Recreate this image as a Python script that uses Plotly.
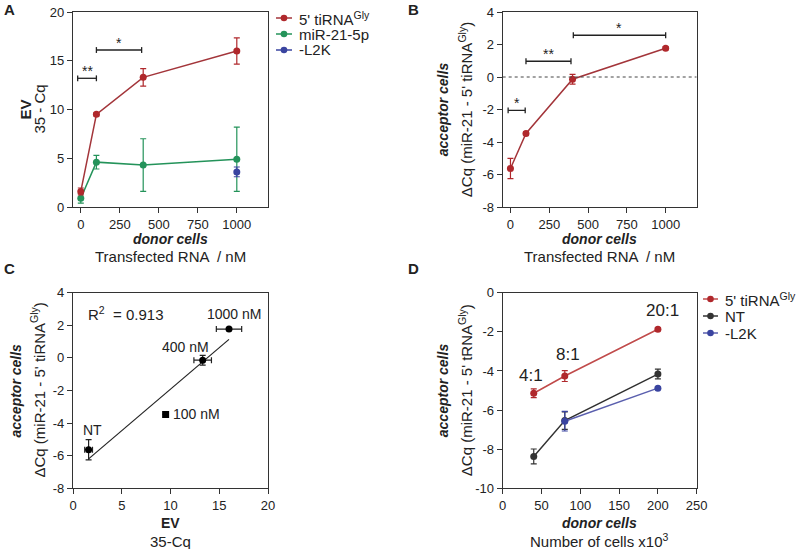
import numpy as np
import plotly.graph_objects as go

# ---------------- data ----------------
# Panel A : EV levels vs transfected RNA
rna_nM = [0, 100, 400, 1000]
ev_tirna = [1.6, 9.5, 13.3, 16.0]
ev_tirna_err = [0.35, 0.15, 0.9, 1.35]
ev_mir21 = [0.9, 4.6, 4.3, 4.9]
ev_mir21_err = [0.5, 0.7, 2.7, 3.3]
l2k_nM = [1000]
ev_l2k = [3.6]
ev_l2k_err = [0.5]
sigA_x0 = [-20, 100]
sigA_x1 = [100, 390]
sigA_y = [13.2, 16.1]
sigA_txt = ["**", "*"]

# Panel B : acceptor cells dCq vs transfected RNA
dcq_tirna = [-5.63, -3.47, -0.14, 1.77]
dcq_tirna_err = [0.62, 0.1, 0.3, 0.08]
sigB_x0 = [-15, 100, 405]
sigB_x1 = [95, 390, 1000]
sigB_y = [-2.05, 0.97, 2.57]
sigB_txt = ["*", "**", "*"]

# Panel C : correlation
c_labels = ["NT", "100 nM", "400 nM", "1000 nM"]
c_ev = [1.6, 9.5, 13.3, 16.0]
c_ev_err = [0.4, 0.0, 0.9, 1.3]
c_dcq = [-5.63, -3.47, -0.14, 1.77]
c_dcq_err = [0.62, 0.0, 0.3, 0.08]
c_symbols = ["circle", "square", "circle", "circle"]
r2_text = "R<sup>2</sup>  = 0.913"

# Panel D : cell number
cells_k = [40, 80, 200]
d_tirna = [-5.14, -4.26, -1.87]
d_tirna_err = [0.22, 0.28, 0.07]
d_nt = [-8.37, -6.54, -4.16]
d_nt_err = [0.38, 0.45, 0.25]
l2k_cells = [80, 200]
d_l2k = [-6.57, -4.88]
d_l2k_err = [0.5, 0.06]
ratio_labels = ["4:1", "8:1", "20:1"]

# tick values
ticksA_x = [0, 250, 500, 750, 1000]
ticksA_y = [0, 5, 10, 15, 20]
ticksB_y = [-8, -6, -4, -2, 0, 2, 4]
ticksC_x = [0, 5, 10, 15, 20]
ticksD_x = [0, 50, 100, 150, 200, 250]
ticksD_y = [-10, -8, -6, -4, -2, 0]

# ---------------- style ----------------
RED = "#b0282c"
RED_LINE = "#a3353a"
GREEN = "#24935a"
BLUE = "#3a44a0"
BLACK = "#222222"
FONT = "Liberation Sans, Arial, sans-serif"
W, H = 800, 549


def px(x):
    return x / W


def py(y):
    return 1 - y / H


fig = go.Figure()


def series(x, y, err, color, name, xa, ya, line=True, line_color=None, symbol="circle"):
    fig.add_trace(go.Scatter(
        x=x, y=y, name=name, xaxis=xa, yaxis=ya, showlegend=False,
        mode="lines+markers" if line else "markers",
        line=dict(color=line_color or color, width=1.5),
        marker=dict(color=color, size=7, symbol=symbol),
        error_y=dict(type="data", array=err, color=color, thickness=1.2, width=3),
    ))


# Panel A
series(rna_nM, ev_mir21, ev_mir21_err, GREEN, "miR-21-5p", "x", "y")
series(rna_nM, ev_tirna, ev_tirna_err, RED, "5' tiRNA", "x", "y", line_color=RED_LINE)
series(l2k_nM, ev_l2k, ev_l2k_err, BLUE, "-L2K", "x", "y", line=False)

# Panel B
series(rna_nM, dcq_tirna, dcq_tirna_err, RED, "5' tiRNA", "x2", "y2", line_color=RED_LINE)

# Panel C
coef = np.polyfit(c_ev, c_dcq, 1)
fit_x = np.array([min(c_ev), max(c_ev)])
fig.add_trace(go.Scatter(x=fit_x, y=np.polyval(coef, fit_x), mode="lines", xaxis="x3", yaxis="y3",
                         line=dict(color=BLACK, width=1.2), showlegend=False))
fig.add_trace(go.Scatter(
    x=c_ev, y=c_dcq, mode="markers", xaxis="x3", yaxis="y3", showlegend=False,
    marker=dict(color="black", size=7, symbol=c_symbols),
    error_x=dict(type="data", array=c_ev_err, color=BLACK, thickness=1.2, width=3),
    error_y=dict(type="data", array=c_dcq_err, color=BLACK, thickness=1.2, width=3),
))

# Panel D
series(cells_k, d_tirna, d_tirna_err, RED, "5' tiRNA", "x4", "y4", line_color="#c04a4a")
series(cells_k, d_nt, d_nt_err, "#333333", "NT", "x4", "y4")
series(l2k_cells, d_l2k, d_l2k_err, BLUE, "-L2K", "x4", "y4", line_color="#5a5fae")

# ---------------- axes ----------------
axis_common = dict(showline=True, linecolor="#333333", linewidth=1.3, mirror=True,
                   ticks="outside", ticklen=5, tickwidth=1.2, tickcolor="#333333",
                   showgrid=False, zeroline=False, automargin=False,
                   tickfont=dict(family=FONT, size=13, color=BLACK))


def tk(vals):
    return dict(tickvals=vals, ticktext=[str(v) for v in vals])


xA = [73, 268]
xB = [502.7, 696.7]
yTop = [12, 207]
yBot = [292.7, 488.3]

fig.update_layout(
    template="none",
    width=W, height=H, margin=dict(l=0, r=0, t=0, b=0, pad=0), autosize=False,
    plot_bgcolor="white", paper_bgcolor="white", showlegend=False,
    font=dict(family=FONT, color=BLACK),
    xaxis=dict(axis_common, domain=[px(xA[0]), px(xA[1])], range=[-50, 1200], anchor="y", **tk(ticksA_x)),
    yaxis=dict(axis_common, domain=[py(yTop[1]), py(yTop[0])], range=[0, 20], anchor="x", **tk(ticksA_y)),
    xaxis2=dict(axis_common, domain=[px(xB[0]), px(xB[1])], range=[-50, 1200], anchor="y2", **tk(ticksA_x)),
    yaxis2=dict(axis_common, domain=[py(yTop[1]), py(yTop[0])], range=[-8, 4], anchor="x2", **tk(ticksB_y)),
    xaxis3=dict(axis_common, domain=[px(xA[0]), px(xA[1])], range=[0, 20], anchor="y3", **tk(ticksC_x)),
    yaxis3=dict(axis_common, domain=[py(yBot[1]), py(yBot[0])], range=[-8, 4], anchor="x3", **tk(ticksB_y)),
    xaxis4=dict(axis_common, domain=[px(xB[0]), px(xB[1])], range=[0, 250], anchor="y4", **tk(ticksD_x)),
    yaxis4=dict(axis_common, domain=[py(yBot[1]), py(yBot[0])], range=[-10, 0], anchor="x4", **tk(ticksD_y)),
)

shapes = []
ann = []


def text(x, y, t, size=15, bold=False, italic=False, angle=0, xanchor="center", yanchor="middle",
         xref="paper", yref="paper", xshift=0, yshift=0):
    if italic:
        t = "<i>" + t + "</i>"
    if bold:
        t = "<b>" + t + "</b>"
    ann.append(dict(x=x, y=y, xref=xref, yref=yref, text=t, showarrow=False, textangle=angle,
                    xanchor=xanchor, yanchor=yanchor, xshift=xshift, yshift=yshift,
                    font=dict(family=FONT, size=size, color=BLACK)))


# panel letters
for lab, x, y in [("A", 9, 10), ("B", 413, 10), ("C", 9, 268), ("D", 413, 268)]:
    text(px(x), py(y), lab, size=15, bold=True)

# axis titles
cA = (xA[0] + xA[1]) / 2
cB = (xB[0] + xB[1]) / 2
mTop = (yTop[0] + yTop[1]) / 2
mBot = (yBot[0] + yBot[1]) / 2
text(px(cA), py(239), "donor cells", size=14, bold=True, italic=True)
text(px(cA), py(257), "Transfected RNA  / nM", size=15)
text(px(cB), py(239), "donor cells", size=14, bold=True, italic=True)
text(px(cB), py(257), "Transfected RNA  / nM", size=15)
text(px(cA), py(523), "EV", size=14, bold=True)
text(px(cA), py(541), "35-Cq", size=15)
text(px(cB), py(523), "donor cells", size=14, bold=True, italic=True)
text(px(cB), py(540), "Number of cells x10<sup>3</sup>", size=15)

text(px(25), py(mTop), "EV", size=15, bold=True, angle=-90)
text(px(39), py(mTop), "35 - Cq", size=15, angle=-90)
text(px(xB[0] - 60), py(mTop), "acceptor cells", size=14, bold=True, italic=True, angle=-90)
text(px(xB[0] - 37), py(mTop), "ΔCq (miR-21 - 5' tiRNA<sup>Gly</sup>)", size=15, angle=-90)
text(px(xA[0] - 58), py(mBot), "acceptor cells", size=14, bold=True, italic=True, angle=-90)
text(px(xA[0] - 35), py(mBot), "ΔCq (miR-21 - 5' tiRNA<sup>Gly</sup>)", size=15, angle=-90)
text(px(xB[0] - 60), py(mBot), "acceptor cells", size=14, bold=True, italic=True, angle=-90)
text(px(xB[0] - 37), py(mBot), "ΔCq (miR-21 - 5' tRNA<sup>Gly</sup>)", size=15, angle=-90)


# significance brackets
def brackets(x0s, x1s, ys, txts, xref, yref, cap):
    for x0, x1, y, t in zip(x0s, x1s, ys, txts):
        shapes.append(dict(type="line", xref=xref, yref=yref, x0=x0, x1=x1, y0=y, y1=y,
                           line=dict(color=BLACK, width=1.3)))
        for xx in (x0, x1):
            shapes.append(dict(type="line", xref=xref, yref=yref, x0=xx, x1=xx, y0=y - cap, y1=y + cap,
                               line=dict(color=BLACK, width=1.3)))
        text((x0 + x1) / 2, y, t, size=14, xref=xref, yref=yref, yanchor="bottom", yshift=-3)


brackets(sigA_x0, sigA_x1, sigA_y, sigA_txt, "x", "y", 0.3)
brackets(sigB_x0, sigB_x1, sigB_y, sigB_txt, "x2", "y2", 0.18)

# dotted zero line in B
shapes.append(dict(type="line", xref="x2", yref="y2", x0=-50, x1=1200, y0=0, y1=0,
                   line=dict(color="#444444", width=1, dash="dot")))

# panel C labels
c_offsets = [(4, 20, "center"), (5, 0, "left"), (-17, 13, "center"), (5, 15, "center")]
for lab, xv, yv, (dx, dy, xa) in zip(c_labels, c_ev, c_dcq, c_offsets):
    text(xv, yv, lab, size=14, xref="x3", yref="y3", xanchor=xa, xshift=dx, yshift=dy)
text(1.3, 2.75, r2_text, size=15, xref="x3", yref="y3", xanchor="left")

# panel D ratio labels
d_offsets = [(-3, 6), (3, 10), (5, 7)]
for lab, xv, yv, (dx, dy) in zip(ratio_labels, cells_k, d_tirna, d_offsets):
    text(xv, yv, lab, size=17, xref="x4", yref="y4", yanchor="bottom", xshift=dx, yshift=dy)


# manual legends
def legend(entries, x_line0, x_line1, ys):
    for (label, col, lcol), y in zip(entries, ys):
        shapes.append(dict(type="line", xref="paper", yref="paper", x0=px(x_line0), x1=px(x_line1),
                           y0=py(y), y1=py(y), line=dict(color=lcol, width=1.5)))
        cx = (x_line0 + x_line1) / 2
        shapes.append(dict(type="circle", xref="paper", yref="paper", x0=px(cx - 3.3), x1=px(cx + 3.3),
                           y0=py(y + 3.3), y1=py(y - 3.3), fillcolor=col, line=dict(color=col, width=0)))
        text(px(x_line1 + 5), py(y), label, size=15, xanchor="left")


legend([("5' tiRNA<sup>Gly</sup>", RED, RED_LINE), ("miR-21-5p", GREEN, GREEN), ("-L2K", BLUE, BLUE)],
       276, 292, [18, 34, 50])
legend([("5' tiRNA<sup>Gly</sup>", RED, "#c04a4a"), ("NT", "#333333", "#333333"), ("-L2K", BLUE, "#5a5fae")],
       703, 718, [299, 316, 333])

fig.update_layout(shapes=shapes, annotations=ann)
fig.write_html("out.html", config={"displayModeBar": False},
               post_script="document.body.style.margin='0';document.body.style.overflow='hidden';")
